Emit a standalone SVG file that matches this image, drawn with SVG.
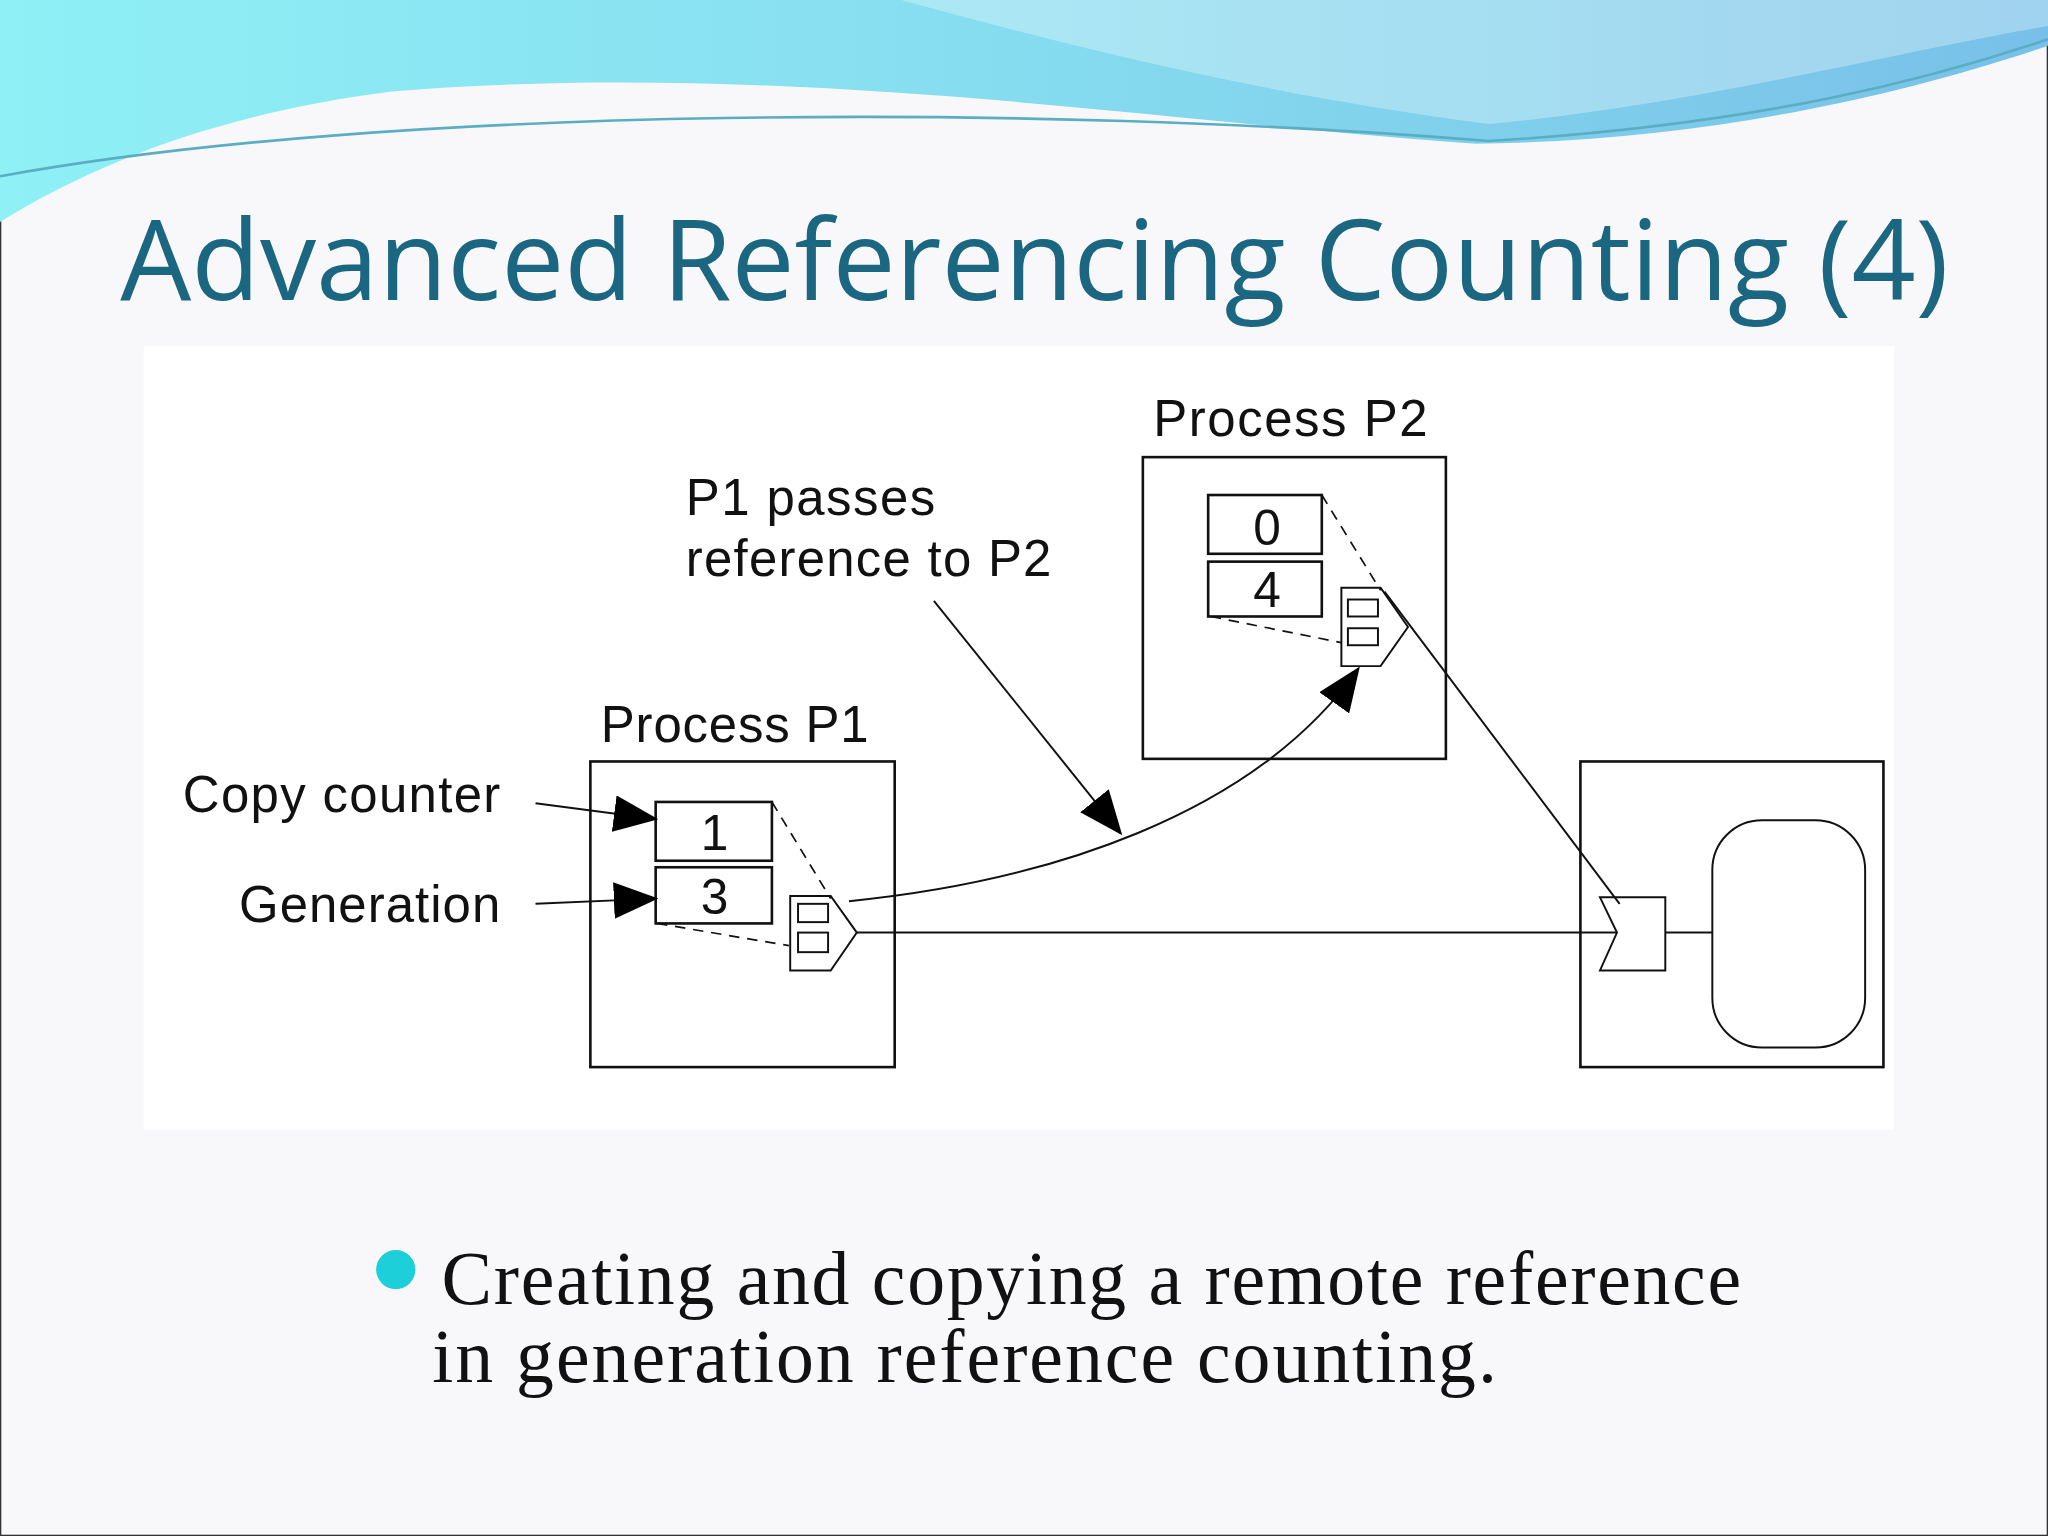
<svg xmlns="http://www.w3.org/2000/svg" width="2048" height="1536" viewBox="0 0 2048 1536">
<defs>
<linearGradient id="hd" x1="0" y1="0" x2="1" y2="0"><stop offset="0" stop-color="#8ff0f6"/><stop offset="0.5" stop-color="#86dcef"/><stop offset="1" stop-color="#78c0e8"/></linearGradient>
<marker id="ah" markerUnits="userSpaceOnUse" markerWidth="34" markerHeight="28" refX="32" refY="14" orient="auto"><path d="M0,0 L34,14 L0,28 Z" fill="#000"/></marker>
<style>
.t{font-family:"Liberation Sans",Arial,sans-serif;font-size:39px;fill:#111}
.n{font-family:"Liberation Sans",Arial,sans-serif;font-size:38px;fill:#111;text-anchor:middle}
.b{fill:#fff;stroke:#111;stroke-width:2}
.l{fill:none;stroke:#111;stroke-width:1.5}
.d{fill:none;stroke:#111;stroke-width:1.3;stroke-dasharray:8,6}
.s{font-family:"Liberation Serif",serif;font-size:58px;fill:#111}
</style>
</defs>
<g transform="scale(1.30612)">
<rect width="1568" height="1176" fill="#f8f8fb" stroke="#333" stroke-width="2"/>
<g id="header">
<path d="M0,0 H1568 V35 C1450,75 1300,108 1130,110 C900,95 600,45 300,70 C180,85 80,120 0,170 Z" fill="url(#hd)"/>
<path d="M690,0 C800,30 950,70 1140,95 C1300,80 1450,40 1568,20 V0 Z" fill="#ffffff" opacity="0.3"/>
<path d="M0,135 C300,80 800,80 1140,108 C1350,95 1480,60 1568,30" fill="none" stroke="#5aaec4" stroke-width="2"/>
</g>
<text x="92" y="230" font-family="'Open Sans','Noto Sans',sans-serif" font-size="86" fill="#1b6680" textLength="1400">Advanced Referencing Counting (4)</text>
<rect x="110" y="265" width="1340" height="600" fill="#ffffff"/>
<g id="p2">
<text class="t" x="883" y="334" textLength="210">Process P2</text>
<rect class="b" x="875" y="350" width="232" height="231"/>
<rect class="b" x="925" y="379" width="87" height="45"/><text class="n" x="970" y="417">0</text>
<rect class="b" x="925" y="430" width="87" height="42"/><text class="n" x="970" y="465">4</text>
<path class="l" d="M1027,450 H1057 L1078,480 L1057,510 H1027 Z"/>
<rect class="l" x="1032" y="459" width="23" height="13"/><rect class="l" x="1032" y="481" width="23" height="13"/>
<path class="d" d="M1012,379 L1057,452 M927,472 L1027,492"/>
</g>
<g id="p1">
<text class="t" x="460" y="568" textLength="205">Process P1</text>
<rect class="b" x="452" y="583" width="233" height="234"/>
<rect class="b" x="502" y="614" width="89" height="45"/><text class="n" x="547" y="651">1</text>
<rect class="b" x="502" y="664" width="89" height="43"/><text class="n" x="547" y="700">3</text>
<path class="l" d="M605,686 H636 L656,714 L636,743 H605 Z"/>
<rect class="l" x="611" y="692" width="23" height="14"/><rect class="l" x="611" y="714" width="23" height="15"/>
<path class="d" d="M591,614 L636,688 M503,707 L604,724"/>
</g>
<g id="obj">
<rect class="b" x="1210" y="583" width="232" height="234"/>
<path class="l" d="M1225,687 H1275 V743 H1225 L1238,714 Z"/>
<rect class="l" x="1311" y="628" width="117" height="174" rx="38"/>
</g>
<g id="labels">
<text class="t" x="140" y="622" textLength="243">Copy counter</text>
<text class="t" x="183" y="706" textLength="200">Generation</text>
<text class="t" x="525" y="394" textLength="191">P1 passes</text>
<text class="t" x="525" y="441" textLength="280">reference to P2</text>
</g>
<g id="connectors">
<path class="l" d="M656,714 H1238"/>
<path class="l" d="M1275,714 H1311"/>
<path class="l" d="M1060,453 L1240,692"/>
<path class="l" d="M650,690 C800,675 960,625 1040,512" marker-end="url(#ah)"/>
<path class="l" d="M715,460 L858,638" marker-end="url(#ah)"/>
<path class="l" d="M410,615 L502,627" marker-end="url(#ah)"/>
<path class="l" d="M410,692 L502,688" marker-end="url(#ah)"/>
</g>
<circle cx="303" cy="972" r="15" fill="#1ccfd8"/>
<text class="s" x="338" y="998" textLength="995">Creating and copying a remote reference</text>
<text class="s" x="331" y="1058" textLength="815">in generation reference counting.</text>
</g>
</svg>
